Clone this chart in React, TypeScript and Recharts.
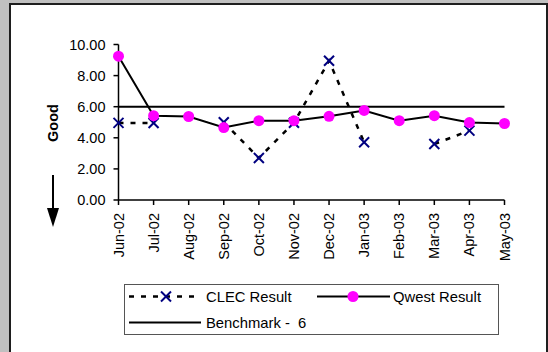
import React from 'react';
import { LineChart, Line, XAxis, YAxis, Legend } from 'recharts';

const months = ['Jun-02', 'Jul-02', 'Aug-02', 'Sep-02', 'Oct-02', 'Nov-02', 'Dec-02', 'Jan-03', 'Feb-03', 'Mar-03', 'Apr-03', 'May-03'];
const clecResult: (number | null)[] = [4.96, 4.95, null, 5.0, 2.7, 4.97, 8.95, 3.71, null, 3.6, 4.46, null];
const qwestResult = [9.25, 5.42, 5.37, 4.66, 5.1, 5.1, 5.38, 5.76, 5.1, 5.42, 4.98, 4.92];
const benchmark = [6, 6, 6, 6, 6, 6, 6, 6, 6, 6, 6, 6];
const yTicks = [0, 2, 4, 6, 8, 10];

const FONT = '"Liberation Sans", Arial, sans-serif';

const data = months.map((m, i) => ({
  month: m,
  clec: clecResult[i],
  qwest: qwestResult[i],
  benchmark: benchmark[i],
}));

const XDot = (props: any) => {
  const { cx, cy, value, index } = props;
  if (value == null || cx == null || cy == null || isNaN(cy)) return <g key={`x-${index}`} />;
  const s = 5;
  return (
    <g key={`x-${index}`}>
      <line x1={cx - s} y1={cy - s} x2={cx + s} y2={cy + s} stroke="#000080" strokeWidth={2} />
      <line x1={cx - s} y1={cy + s} x2={cx + s} y2={cy - s} stroke="#000080" strokeWidth={2} />
    </g>
  );
};

const XTick = (props: any) => {
  const { x, y, payload } = props;
  return (
    <text
      x={x}
      y={y}
      dy={5}
      transform={`rotate(-90, ${x}, ${y})`}
      textAnchor="end"
      fontFamily={FONT}
      fontSize={14.5}
      fill="#000"
    >
      {payload.value}
    </text>
  );
};

const YLabel = () => (
  <g>
    <text
      x={53}
      y={123}
      transform="rotate(-90, 53, 123)"
      textAnchor="middle"
      dy={5}
      fontFamily={FONT}
      fontSize={14.5}
      fontWeight="bold"
      fill="#000"
    >
      Good
    </text>
    <line x1={53} y1={175} x2={53} y2={210} stroke="#000" strokeWidth={2} />
    <polygon points="47,208 59,208 53,227" fill="#000" />
  </g>
);

const renderLegend = () => (
  <div
    style={{
      width: 375,
      height: 51,
      border: '1.5px solid #555',
      boxSizing: 'border-box',
      position: 'relative',
      fontFamily: FONT,
      fontSize: 14.5,
      color: '#000',
      background: '#fff',
    }}
  >
    <svg width={375} height={51} style={{ position: 'absolute', left: -1.5, top: -1.5 }}>
      <line x1={5} y1={12.5} x2={76} y2={12.5} stroke="#000" strokeWidth={2.5} strokeDasharray="5 7" />
      <line x1={37} y1={7.5} x2={47} y2={17.5} stroke="#000080" strokeWidth={2} />
      <line x1={37} y1={17.5} x2={47} y2={7.5} stroke="#000080" strokeWidth={2} />
      <line x1={193} y1={12.5} x2={266} y2={12.5} stroke="#000" strokeWidth={2} />
      <circle cx={229} cy={12.5} r={5.5} fill="#FF00FF" />
      <line x1={5} y1={38.5} x2={77} y2={38.5} stroke="#000" strokeWidth={2} />
      <text x={82} y={17.5} fontFamily={FONT} fontSize={14.8}>CLEC Result</text>
      <text x={269} y={17.5} fontFamily={FONT} fontSize={14.8}>Qwest Result</text>
      <text x={82} y={43.5} fontFamily={FONT} fontSize={14.8} style={{ whiteSpace: 'pre' }} xmlSpace="preserve">Benchmark -  6</text>
    </svg>
  </div>
);

export default function App() {
  return (
    <div style={{ position: 'absolute', left: 0, top: 0, width: 548, height: 352, background: '#c0c0c0', overflow: 'hidden' }}>
      <div
        style={{
          position: 'absolute',
          left: 9,
          top: 3,
          width: 539,
          height: 360,
          background: '#fff',
          borderTop: '2px solid #1e1e1e',
          borderLeft: '2px solid #1e1e1e',
          borderRight: '2px solid #1e1e1e',
          boxSizing: 'border-box',
        }}
      />
      <div style={{ position: 'absolute', left: 0, top: 0 }}>
        <LineChart
          width={548}
          height={352}
          data={data}
          margin={{ top: 44.5, right: 43.5, left: 0, bottom: 0 }}
        >
          <XAxis
            xAxisId="top"
            orientation="top"
            dataKey="month"
            height={0}
            tick={false}
            tickLine={false}
            axisLine={{ stroke: '#999', strokeWidth: 2 }}
            scale="point"
            padding={{ left: 0, right: 0 }}
          />
          <YAxis
            yAxisId="right"
            orientation="right"
            width={0}
            domain={[0, 10]}
            tick={false}
            tickLine={false}
            axisLine={{ stroke: '#999', strokeWidth: 2 }}
          />
          <XAxis
            dataKey="month"
            scale="point"
            padding={{ left: 0, right: 0 }}
            height={152}
            interval={0}
            tickSize={5}
            tickMargin={8}
            tick={XTick}
            axisLine={{ stroke: '#000', strokeWidth: 1.5 }}
            tickLine={{ stroke: '#000', strokeWidth: 1.5 }}
          />
          <YAxis
            width={118.5}
            domain={[0, 10]}
            ticks={yTicks}
            interval={0}
            tickFormatter={(v: number) => v.toFixed(2)}
            tickSize={5}
            tickMargin={8}
            tick={{ fontFamily: FONT, fontSize: 14.5, fill: '#000' }}
            axisLine={{ stroke: '#000', strokeWidth: 1.5 }}
            tickLine={{ stroke: '#000', strokeWidth: 1.5 }}
            label={<YLabel />}
          />
          <Legend
            layout="horizontal"
            verticalAlign="middle"
            align="center"
            content={renderLegend}
            wrapperStyle={{ left: 124, top: 284, width: 375, height: 51 }}
          />
          <Line
            dataKey="benchmark"
            name="Benchmark -  6"
            stroke="#000"
            strokeWidth={2}
            dot={false}
            activeDot={false}
            isAnimationActive={false}
          />
          <Line
            dataKey="clec"
            name="CLEC Result"
            stroke="#000"
            strokeWidth={2.5}
            strokeDasharray="5 7"
            dot={XDot}
            activeDot={false}
            connectNulls={false}
            isAnimationActive={false}
          />
          <Line
            dataKey="qwest"
            name="Qwest Result"
            stroke="#000"
            strokeWidth={2}
            dot={{ r: 5.5, fill: '#FF00FF', stroke: 'none' }}
            activeDot={false}
            isAnimationActive={false}
          />
        </LineChart>
      </div>
    </div>
  );
}
